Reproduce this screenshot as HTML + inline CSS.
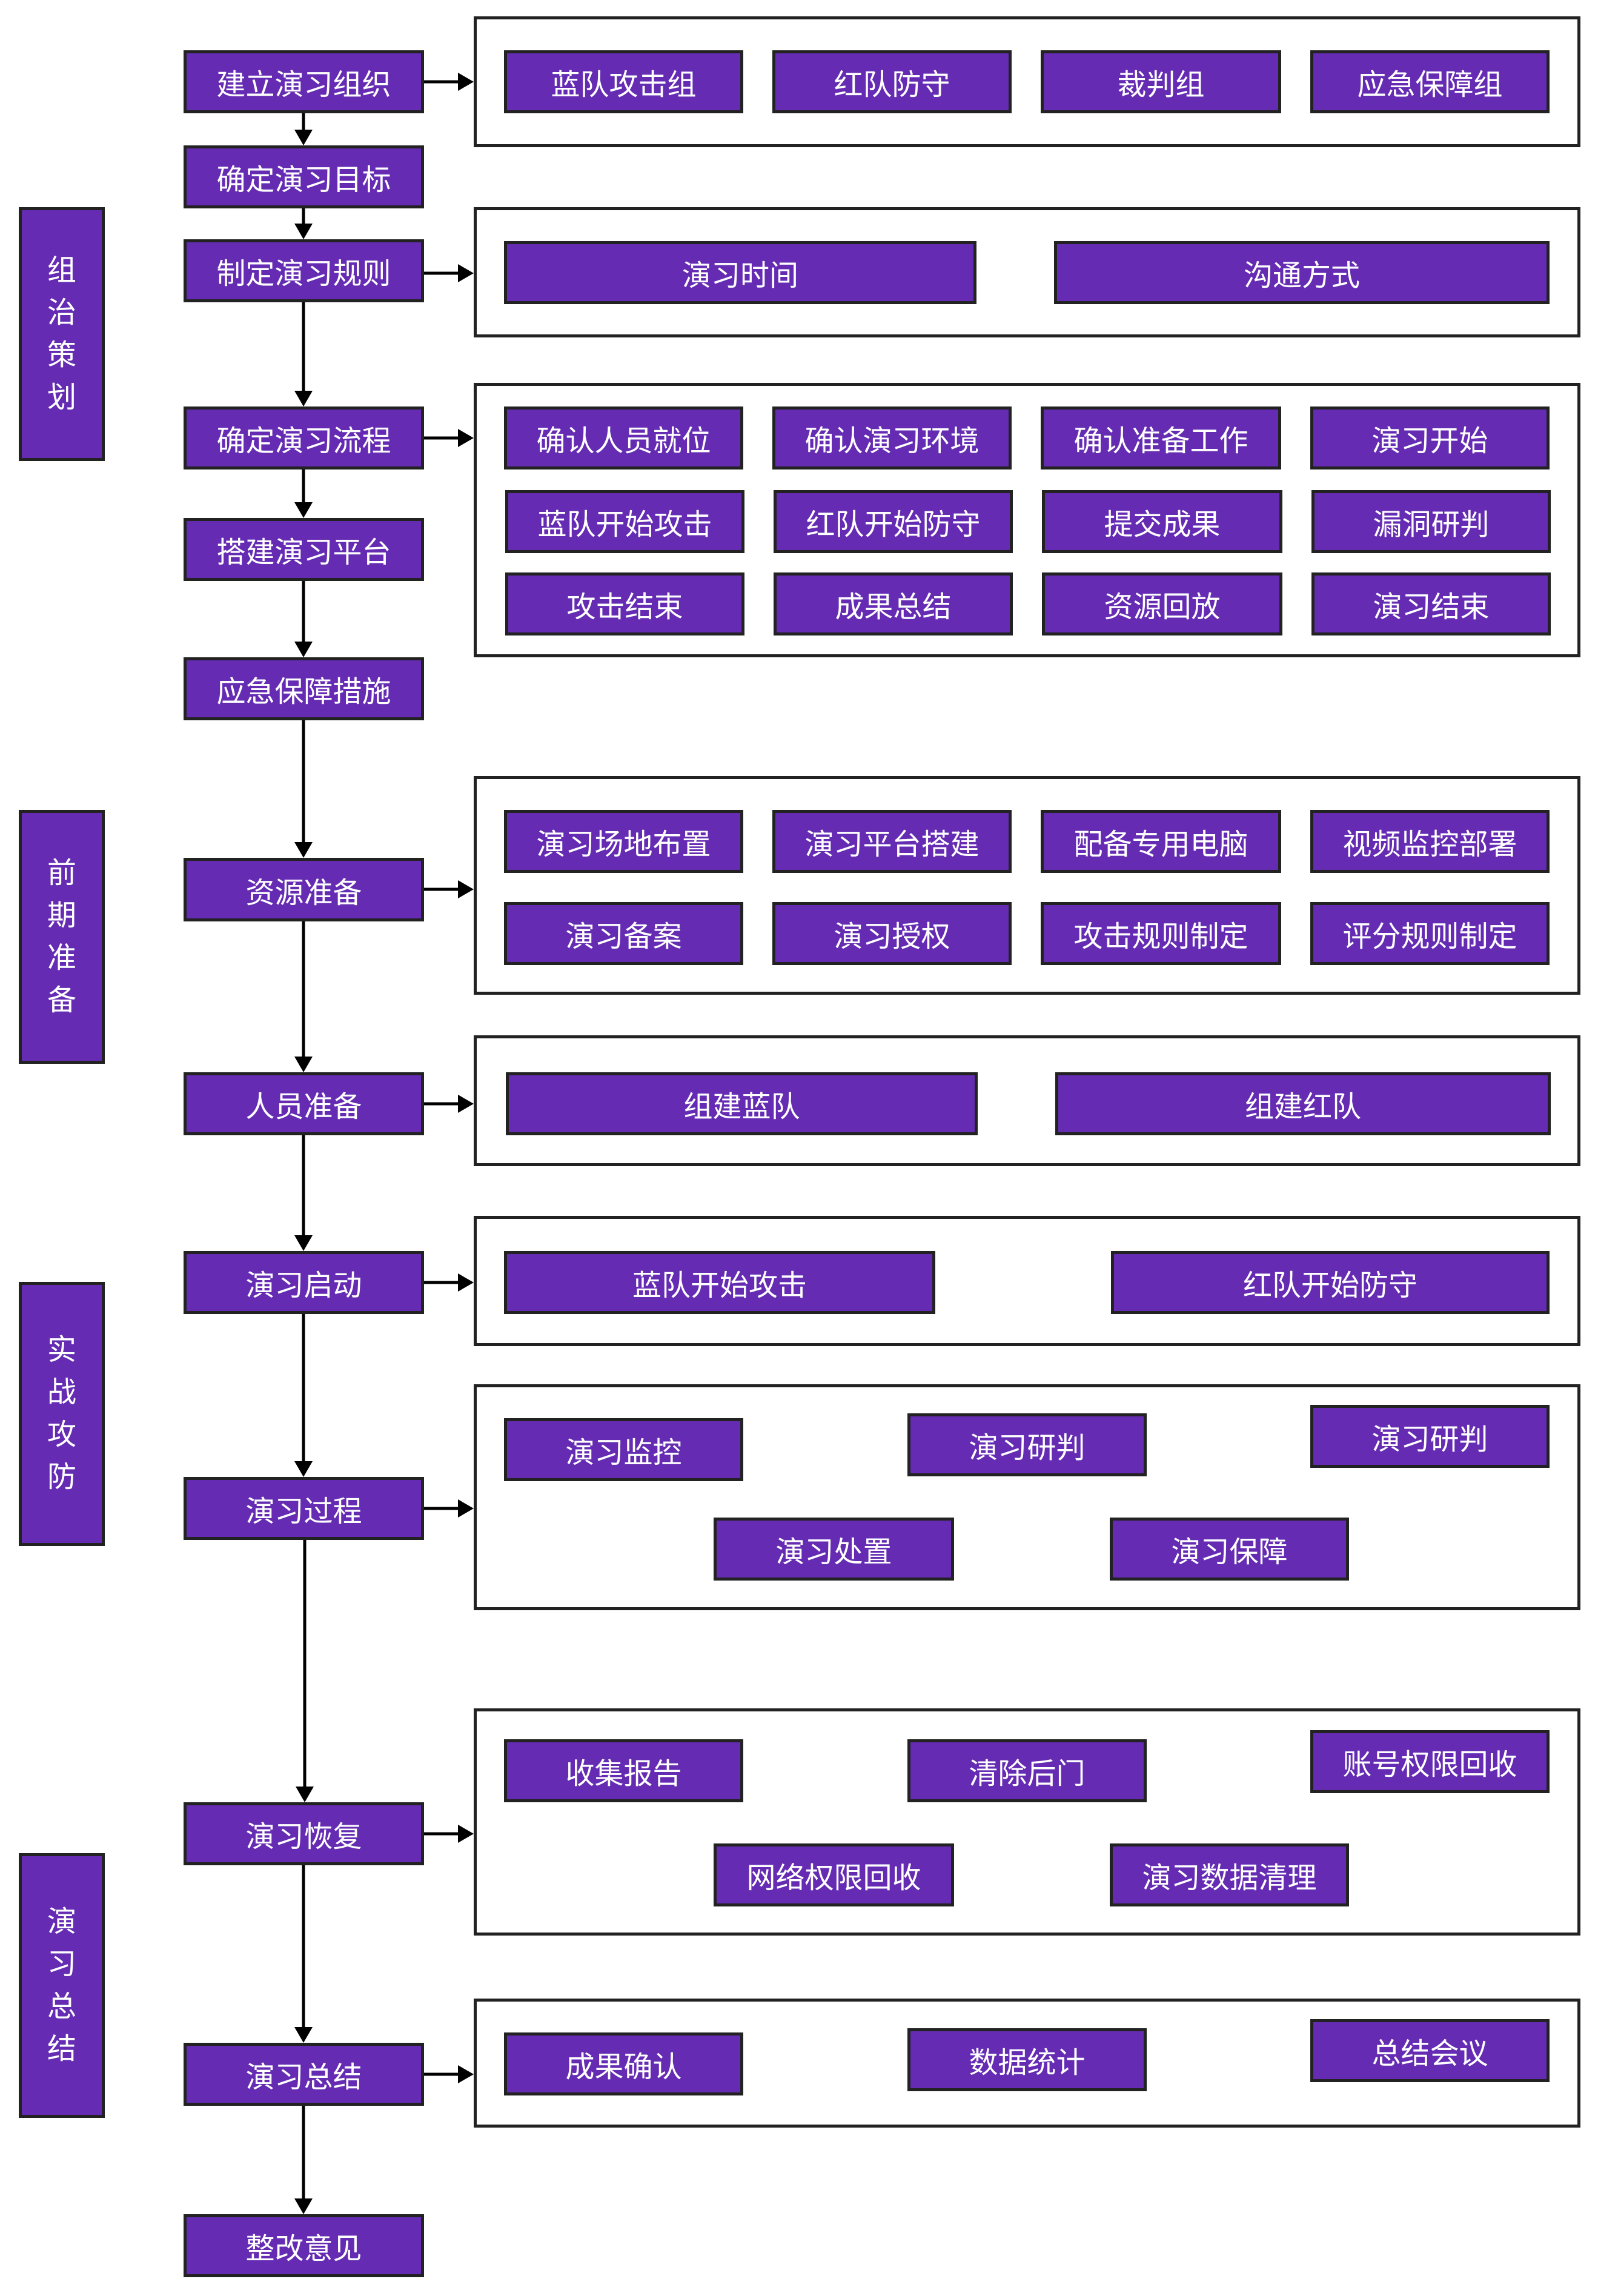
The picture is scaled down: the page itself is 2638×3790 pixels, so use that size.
<!DOCTYPE html>
<html><head><meta charset="utf-8"><style>
html,body{margin:0;padding:0;background:#fff;}
body{width:2638px;height:3790px;position:relative;overflow:hidden;font-family:"Liberation Sans","Noto Sans CJK SC",sans-serif;}
#w{position:absolute;left:0;top:-4px;width:2638px;height:3794px;}
.b{position:absolute;box-sizing:border-box;background:#652cb3;border:5px solid #222;color:#fff;font-size:48px;display:flex;align-items:center;justify-content:center;white-space:nowrap;}
.g{position:absolute;box-sizing:border-box;border:5px solid #222;background:transparent;}
.s{position:absolute;box-sizing:border-box;background:#652cb3;border:5px solid #222;color:#fff;font-size:48px;display:flex;flex-direction:column;align-items:center;justify-content:center;line-height:70px;left:31px;width:142px;}
svg{position:absolute;left:0;top:0;}
</style></head><body><div id="w">

<div class="s" style="top:346px;height:419px;"><span>组</span><span>治</span><span>策</span><span>划</span></div>
<div class="s" style="top:1341px;height:419px;"><span>前</span><span>期</span><span>准</span><span>备</span></div>
<div class="s" style="top:2120px;height:436px;"><span>实</span><span>战</span><span>攻</span><span>防</span></div>
<div class="s" style="top:3063px;height:437px;"><span>演</span><span>习</span><span>总</span><span>结</span></div>

<div class="g" style="left:782px;top:31px;width:1827px;height:216px;"></div>
<div class="g" style="left:782px;top:346px;width:1827px;height:215px;"></div>
<div class="g" style="left:782px;top:636px;width:1827px;height:453px;"></div>
<div class="g" style="left:782px;top:1285px;width:1827px;height:361px;"></div>
<div class="g" style="left:782px;top:1713px;width:1827px;height:216px;"></div>
<div class="g" style="left:782px;top:2011px;width:1827px;height:215px;"></div>
<div class="g" style="left:782px;top:2289px;width:1827px;height:373px;"></div>
<div class="g" style="left:782px;top:2824px;width:1827px;height:375px;"></div>
<div class="g" style="left:782px;top:3303px;width:1827px;height:213px;"></div>

<svg width="2638" height="3794" viewBox="0 0 2638 3794">
<g stroke="#000" stroke-width="5" fill="none">
<line x1="501" y1="191" x2="501" y2="222"/>
<line x1="501" y1="348" x2="501" y2="377"/>
<line x1="501" y1="503" x2="501" y2="652"/>
<line x1="501" y1="779" x2="501" y2="836"/>
<line x1="501" y1="963" x2="501" y2="1066"/>
<line x1="501" y1="1193" x2="501" y2="1397"/>
<line x1="501" y1="1525" x2="501" y2="1751"/>
<line x1="501" y1="1878" x2="501" y2="2046"/>
<line x1="501" y1="2173" x2="501" y2="2419"/>
<line x1="503" y1="2546" x2="503" y2="2956"/>
<line x1="501" y1="3083" x2="501" y2="3353"/>
<line x1="501" y1="3480" x2="501" y2="3636"/>
<line x1="700" y1="139" x2="758" y2="139"/>
<line x1="700" y1="455" x2="758" y2="455"/>
<line x1="700" y1="727" x2="758" y2="727"/>
<line x1="700" y1="1472" x2="758" y2="1472"/>
<line x1="700" y1="1826" x2="758" y2="1826"/>
<line x1="700" y1="2121" x2="758" y2="2121"/>
<line x1="700" y1="2494" x2="758" y2="2494"/>
<line x1="700" y1="3031" x2="758" y2="3031"/>
<line x1="700" y1="3428" x2="758" y2="3428"/>
</g>
<g fill="#000">
<polygon points="486,218 516,218 501,244"/>
<polygon points="486,373 516,373 501,399"/>
<polygon points="486,649 516,649 501,675"/>
<polygon points="486,833 516,833 501,859"/>
<polygon points="486,1063 516,1063 501,1089"/>
<polygon points="486,1394 516,1394 501,1420"/>
<polygon points="486,1748 516,1748 501,1774"/>
<polygon points="486,2043 516,2043 501,2069"/>
<polygon points="486,2416 516,2416 501,2442"/>
<polygon points="488,2953 518,2953 503,2979"/>
<polygon points="486,3350 516,3350 501,3376"/>
<polygon points="486,3633 516,3633 501,3659"/>
<polygon points="756,124 782,139 756,154"/>
<polygon points="756,440 782,455 756,470"/>
<polygon points="756,712 782,727 756,742"/>
<polygon points="756,1457 782,1472 756,1487"/>
<polygon points="756,1811 782,1826 756,1841"/>
<polygon points="756,2106 782,2121 756,2136"/>
<polygon points="756,2479 782,2494 756,2509"/>
<polygon points="756,3016 782,3031 756,3046"/>
<polygon points="756,3413 782,3428 756,3443"/>
</g>
</svg>

<div class="b" style="left:303px;top:87px;width:397px;height:104px;">建立演习组织</div>
<div class="b" style="left:303px;top:244px;width:397px;height:104px;">确定演习目标</div>
<div class="b" style="left:303px;top:399px;width:397px;height:104px;">制定演习规则</div>
<div class="b" style="left:303px;top:675px;width:397px;height:104px;">确定演习流程</div>
<div class="b" style="left:303px;top:859px;width:397px;height:104px;">搭建演习平台</div>
<div class="b" style="left:303px;top:1089px;width:397px;height:104px;">应急保障措施</div>
<div class="b" style="left:303px;top:1420px;width:397px;height:105px;">资源准备</div>
<div class="b" style="left:303px;top:1774px;width:397px;height:104px;">人员准备</div>
<div class="b" style="left:303px;top:2069px;width:397px;height:104px;">演习启动</div>
<div class="b" style="left:303px;top:2442px;width:397px;height:104px;">演习过程</div>
<div class="b" style="left:303px;top:2979px;width:397px;height:104px;">演习恢复</div>
<div class="b" style="left:303px;top:3376px;width:397px;height:104px;">演习总结</div>
<div class="b" style="left:303px;top:3659px;width:397px;height:104px;">整改意见</div>

<div class="b" style="left:832px;top:87px;width:395px;height:104px;">蓝队攻击组</div>
<div class="b" style="left:1275px;top:87px;width:395px;height:104px;">红队防守</div>
<div class="b" style="left:1718px;top:87px;width:397px;height:104px;">裁判组</div>
<div class="b" style="left:2163px;top:87px;width:395px;height:104px;">应急保障组</div>
<div class="b" style="left:832px;top:402px;width:780px;height:104px;">演习时间</div>
<div class="b" style="left:1740px;top:402px;width:818px;height:104px;">沟通方式</div>
<div class="b" style="left:832px;top:675px;width:395px;height:104px;">确认人员就位</div>
<div class="b" style="left:1275px;top:675px;width:395px;height:104px;">确认演习环境</div>
<div class="b" style="left:1718px;top:675px;width:397px;height:104px;">确认准备工作</div>
<div class="b" style="left:2163px;top:675px;width:395px;height:104px;">演习开始</div>
<div class="b" style="left:834px;top:813px;width:395px;height:104px;">蓝队开始攻击</div>
<div class="b" style="left:1277px;top:813px;width:395px;height:104px;">红队开始防守</div>
<div class="b" style="left:1720px;top:813px;width:397px;height:104px;">提交成果</div>
<div class="b" style="left:2165px;top:813px;width:395px;height:104px;">漏洞研判</div>
<div class="b" style="left:834px;top:949px;width:395px;height:104px;">攻击结束</div>
<div class="b" style="left:1277px;top:949px;width:395px;height:104px;">成果总结</div>
<div class="b" style="left:1720px;top:949px;width:397px;height:104px;">资源回放</div>
<div class="b" style="left:2165px;top:949px;width:395px;height:104px;">演习结束</div>
<div class="b" style="left:832px;top:1341px;width:395px;height:104px;">演习场地布置</div>
<div class="b" style="left:1275px;top:1341px;width:395px;height:104px;">演习平台搭建</div>
<div class="b" style="left:1718px;top:1341px;width:397px;height:104px;">配备专用电脑</div>
<div class="b" style="left:2163px;top:1341px;width:395px;height:104px;">视频监控部署</div>
<div class="b" style="left:832px;top:1493px;width:395px;height:104px;">演习备案</div>
<div class="b" style="left:1275px;top:1493px;width:395px;height:104px;">演习授权</div>
<div class="b" style="left:1718px;top:1493px;width:397px;height:104px;">攻击规则制定</div>
<div class="b" style="left:2163px;top:1493px;width:395px;height:104px;">评分规则制定</div>
<div class="b" style="left:835px;top:1774px;width:779px;height:104px;">组建蓝队</div>
<div class="b" style="left:1742px;top:1774px;width:818px;height:104px;">组建红队</div>
<div class="b" style="left:832px;top:2069px;width:712px;height:104px;">蓝队开始攻击</div>
<div class="b" style="left:1834px;top:2069px;width:724px;height:104px;">红队开始防守</div>
<div class="b" style="left:832px;top:2345px;width:395px;height:104px;">演习监控</div>
<div class="b" style="left:1498px;top:2337px;width:395px;height:104px;">演习研判</div>
<div class="b" style="left:2163px;top:2323px;width:395px;height:104px;">演习研判</div>
<div class="b" style="left:1178px;top:2509px;width:397px;height:104px;">演习处置</div>
<div class="b" style="left:1832px;top:2509px;width:395px;height:104px;">演习保障</div>
<div class="b" style="left:832px;top:2875px;width:395px;height:104px;">收集报告</div>
<div class="b" style="left:1498px;top:2875px;width:395px;height:104px;">清除后门</div>
<div class="b" style="left:2163px;top:2860px;width:395px;height:104px;">账号权限回收</div>
<div class="b" style="left:1178px;top:3047px;width:397px;height:104px;">网络权限回收</div>
<div class="b" style="left:1832px;top:3047px;width:395px;height:104px;">演习数据清理</div>
<div class="b" style="left:832px;top:3359px;width:395px;height:104px;">成果确认</div>
<div class="b" style="left:1498px;top:3352px;width:395px;height:104px;">数据统计</div>
<div class="b" style="left:2163px;top:3337px;width:395px;height:104px;">总结会议</div>

</div></body></html>
